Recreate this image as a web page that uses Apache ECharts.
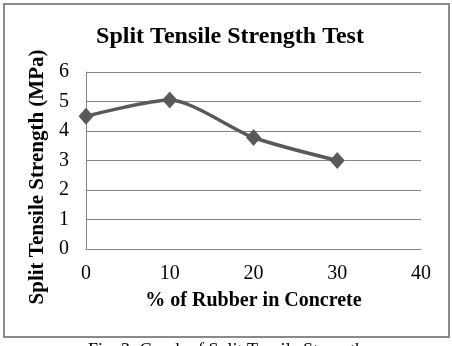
<!DOCTYPE html>
<html>
<head>
<meta charset="utf-8">
<script src="https://cdn.jsdelivr.net/npm/echarts@6/dist/echarts.min.js"></script>
<style>
  html, body { margin: 0; padding: 0; background: #fff; }
  #chart { width: 452px; height: 346px; }
</style>
</head>
<body>
<div id="chart"></div>
<script>
// rubber content (%) and measured split tensile strength (MPa)
const rubberPct = [0, 10, 20, 30];
const strength = [4.5, 5.05, 3.78, 3.0];

const titleText = 'Split Tensile Strength Test';
const xName = '% of Rubber in Concrete';
const yName = 'Split Tensile Strength (MPa)';
const caption = 'Fig. 3: Graph of Split Tensile Strength';

const serif = '"Liberation Serif", "Times New Roman", serif';
const gridGray = '#868686';
const lineGray = '#595959';

const chart = echarts.init(document.getElementById('chart'));

chart.setOption({
  animation: false,
  backgroundColor: '#fff',
  title: {
    text: titleText,
    left: 225,
    textAlign: 'center',
    top: 20,
    textStyle: { fontFamily: serif, fontSize: 24, fontWeight: 'bold', color: '#000' },
  },
  grid: { left: 86, right: 31, top: 72, bottom: 97 },
  xAxis: {
    type: 'value',
    min: 0,
    max: 40,
    interval: 10,
    name: xName,
    nameLocation: 'middle',
    nameGap: 42,
    nameTextStyle: { fontFamily: serif, fontSize: 20, fontWeight: 'bold', color: '#000' },
    axisLine: { show: true, lineStyle: { color: gridGray, width: 1 } },
    axisTick: { show: false },
    splitLine: { show: false },
    axisLabel: { margin: 15, fontFamily: serif, fontSize: 20, color: '#000' },
  },
  yAxis: {
    type: 'value',
    min: 0,
    max: 6,
    interval: 1,
    name: yName,
    nameLocation: 'middle',
    nameGap: 34,
    nameTextStyle: {
      fontFamily: serif, fontSize: 21, fontWeight: 'bold', color: '#000',
      padding: [0, 33, 0, 0],
    },
    axisLine: { show: true, lineStyle: { color: gridGray, width: 1 } },
    axisTick: { show: false },
    splitLine: { show: true, lineStyle: { color: gridGray, width: 1 } },
    axisLabel: { margin: 17, fontFamily: serif, fontSize: 20, color: '#000' },
  },
  series: [
    {
      type: 'line',
      data: rubberPct.map((x, i) => [x, strength[i]]),
      smooth: 0.25,
      symbol: 'diamond',
      symbolSize: [15, 17],
      itemStyle: { color: lineGray },
      lineStyle: { color: lineGray, width: 3.5 },
    },
  ],
  graphic: [
    {
      type: 'rect',
      shape: { x: 4, y: 4, width: 445, height: 333 },
      style: { fill: null, stroke: '#8a8a8a', lineWidth: 2 },
      silent: true,
    },
    {
      type: 'text',
      left: 'center',
      top: 342,
      style: { text: caption, font: '18px ' + serif, fill: '#000' },
      silent: true,
    },
  ],
});
</script>
</body>
</html>
